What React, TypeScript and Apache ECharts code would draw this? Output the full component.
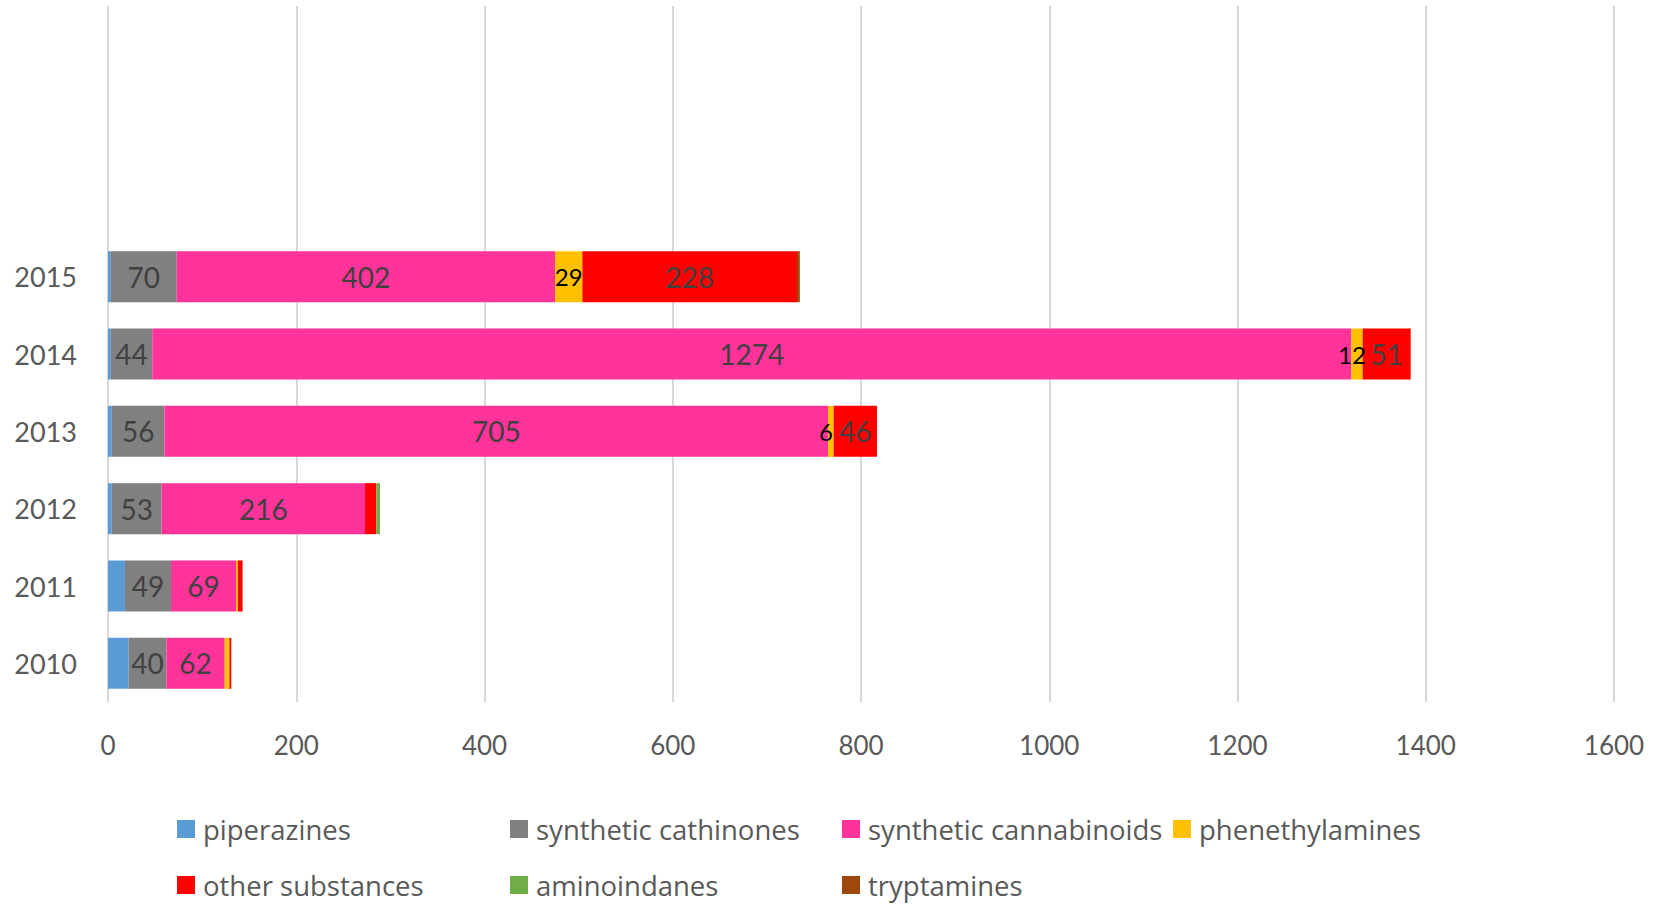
import React, { useEffect, useRef } from "react";
import * as echarts from "echarts";

const years = ["2010", "2011", "2012", "2013", "2014", "2015"];
const emptySlots = [" ", "  ", "   "];
const xTicks = { min: 0, max: 1600, interval: 200 };

const piperazines = [22, 18, 4, 4, 3, 3];
const syntheticCathinones = [40, 49, 53, 56, 44, 70];
const syntheticCannabinoids = [62, 69, 216, 705, 1274, 402];
const phenethylamines = [5, 2, 0, 6, 12, 29];
const otherSubstances = [2, 5, 12, 46, 51, 228];
const aminoindanes = [0, 0, 4, 0, 0, 0];
const tryptamines = [0, 0, 0, 0, 0, 3];

const allYears = years;
const phenLabelYears = ["2013", "2014", "2015"];
const otherLabelYears = ["2013", "2014", "2015"];
const noYears: string[] = [];

const FONT = "Lato, 'Open Sans', sans-serif";
const LEGEND_FONT = "'Open Sans', Lato, sans-serif";

type S = {
  name: string;
  values: number[];
  color: string;
  labelYears: string[];
  labelColor: string;
  labelSize: number;
};

const seriesDefs: S[] = [
  { name: "piperazines", values: piperazines, color: "#5B9BD5", labelYears: noYears, labelColor: "#404040", labelSize: 28 },
  { name: "synthetic cathinones", values: syntheticCathinones, color: "#808080", labelYears: allYears, labelColor: "#404040", labelSize: 28 },
  { name: "synthetic cannabinoids", values: syntheticCannabinoids, color: "#FF3399", labelYears: allYears, labelColor: "#404040", labelSize: 28 },
  { name: "phenethylamines", values: phenethylamines, color: "#FFC000", labelYears: phenLabelYears, labelColor: "#000000", labelSize: 24 },
  { name: "other substances", values: otherSubstances, color: "#FF0000", labelYears: otherLabelYears, labelColor: "#404040", labelSize: 28 },
  { name: "aminoindanes", values: aminoindanes, color: "#70AD47", labelYears: noYears, labelColor: "#404040", labelSize: 28 },
  { name: "tryptamines", values: tryptamines, color: "#9E480E", labelYears: noYears, labelColor: "#404040", labelSize: 28 },
];

const legendPos = [
  { left: 172, top: 810 },
  { left: 505, top: 810 },
  { left: 837, top: 810 },
  { left: 1168, top: 810 },
  { left: 172, top: 866 },
  { left: 505, top: 866 },
  { left: 837, top: 866 },
];

export default function App() {
  const ref = useRef<HTMLDivElement>(null);
  useEffect(() => {
    if (!ref.current) return;
    const chart = echarts.init(ref.current, undefined, { renderer: "svg" });
    const option: any = {
      animation: false,
      backgroundColor: "#ffffff",
      grid: { left: 108, right: 49, top: 6, bottom: 203, containLabel: false },
      xAxis: {
        type: "value",
        min: xTicks.min,
        max: xTicks.max,
        interval: xTicks.interval,
        axisLine: { show: false },
        axisTick: { show: false },
        splitLine: { show: true, lineStyle: { color: "#d9d9d9", width: 2 } },
        axisLabel: {
          fontSize: 26,
          color: "#595959",
          fontFamily: FONT,
          margin: 30,
          formatter: (v: number) => String(v),
        },
      },
      yAxis: {
        type: "category",
        data: [...years, ...emptySlots],
        axisLine: { show: false },
        axisTick: { show: false },
        axisLabel: { fontSize: 27, color: "#595959", fontFamily: FONT, margin: 31 },
      },
      legend: seriesDefs.map((s, i) => ({
        data: [s.name],
        left: legendPos[i].left,
        top: legendPos[i].top,
        icon: "rect",
        itemWidth: 18,
        itemHeight: 18,
        selectedMode: false,
        textStyle: { fontSize: 27.5, color: "#595959", fontFamily: LEGEND_FONT, padding: [0, 0, 0, 3] },
      })),
      series: seriesDefs.map((s) => ({
        name: s.name,
        type: "bar",
        stack: "total",
        barWidth: 51,
        itemStyle: { color: s.color },
        data: s.values.map((v, j) => ({
          value: v,
          label: {
            show: s.labelYears.includes(years[j]),
            position: "inside",
            color: s.labelColor,
            fontSize: s.labelSize,
            fontFamily: FONT,
            offset: v < 20 ? [-5, 0] : [0, 0],
          },
        })),
      })),
    };
    chart.setOption(option);
    return () => chart.dispose();
  }, []);
  return (
    <div
      ref={ref}
      style={{ position: "fixed", left: 0, top: 0, width: 1663, height: 905 }}
    />
  );
}
